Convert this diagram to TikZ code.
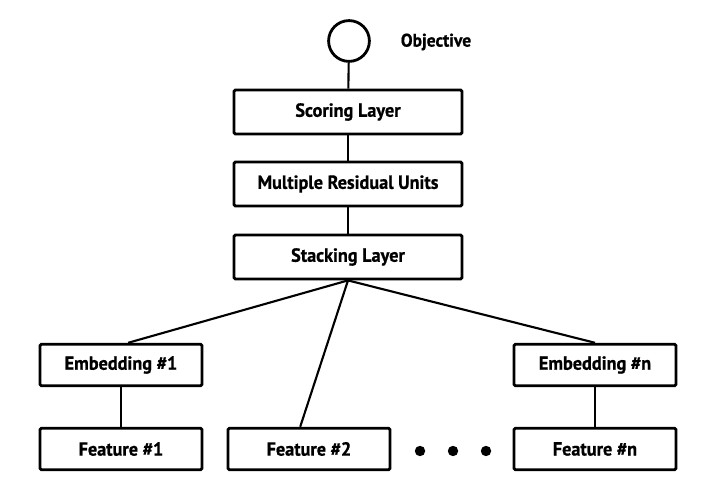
\documentclass[tikz,border=0pt]{standalone}
\usepackage{fontspec}
\newfontfamily\sketchfont{PT Sans}[FakeStretch=0.96,FakeBold=0.8]
\tikzset{
  layer/.style={draw,line width=2pt,rounded corners=1pt,minimum width=5.7cm,minimum height=1.1cm,inner sep=0pt,
    font=\sketchfont\bfseries\fontsize{13.5}{15}\selectfont},
  unit/.style={layer,minimum width=4.05cm,minimum height=1.04cm},
  link/.style={line width=1.5pt},
  dot/.style={circle,fill,inner sep=0pt,minimum size=0.26cm}
}
\begin{document}
\begin{tikzpicture}[x=0.025cm,y=-0.025cm]
    \useasboundingbox (0,0) rectangle (715,503);
    % Obiettivo in cima
    \node[draw,circle,line width=2pt,minimum size=1.02cm,inner sep=0pt] (obj) at (349,41) {};
    \node[font=\sketchfont\bfseries\fontsize{13}{15}\selectfont] (objlabel) at (436,42) {Objective};
    
    % Strati centrali
    \node[layer] (score) at (348,112) {Scoring Layer};
    \node[layer] (resid) at (348,184) {Multiple Residual Units};
    \node[layer] (stack) at (348,257) {Stacking Layer};
    
    % Embedding e feature
    \node[unit] (emb1) at (121,365) {Embedding \#1};
    \node[unit] (embn) at (595,365) {Embedding \#n};
    \node[unit] (feat1) at (121,449) {Feature \#1};
    \node[unit] (feat2) at (309,449) {Feature \#2};
    \node[unit] (featn) at (595,449) {Feature \#n};
    
    % Puntini
    \node[dot] (d1) at (420,451) {};
    \node[dot] (d2) at (453,451) {};
    \node[dot] (d3) at (486,451) {};
    
    % Collegamenti
    \draw[link] (obj) -- (score);
    \draw[link] (score) -- (resid);
    \draw[link] (resid) -- (stack);
    \draw[link] (stack.south) -- ([xshift=0.18cm]emb1.north);
    \draw[link] (stack.south) -- ([xshift=-0.22cm]feat2.north);
    \draw[link] (stack.south) -- (embn.north);
    \draw[link] (emb1) -- (feat1);
    \draw[link] (embn) -- (featn);
\end{tikzpicture}
\end{document}
